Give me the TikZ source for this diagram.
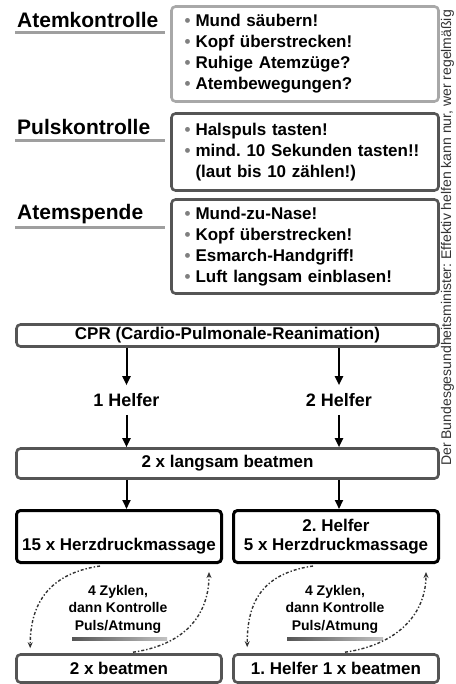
\documentclass[tikz,border=0pt]{standalone}
\usepackage{fontspec}
\setmainfont{Liberation Sans}
\usetikzlibrary{arrows.meta}
\frenchspacing
\definecolor{lightframe}{HTML}{A8A8A8}
\definecolor{darkframe}{HTML}{555555}
\definecolor{loopgray}{HTML}{333333}
\newcommand{\bul}{\makebox[16pt][c]{\textcolor{gray}{\textbullet}}}
\newcommand{\nobul}{\makebox[16pt]{}}
\tikzset{
  listbox/.style={draw, line width=2.6pt, rounded corners=4pt, minimum width=267pt,
    text width=251pt, inner xsep=8pt, align=left, font=\bfseries\fontsize{17}{21}\selectfont},
  flowbox/.style={draw=darkframe, line width=2.6pt, rounded corners=4pt, align=center,
    font=\bfseries\fontsize{17}{19}\selectfont},
  headline/.style={anchor=base west, inner sep=0pt, font=\bfseries\fontsize{21}{24}\selectfont},
  helfer/.style={inner xsep=0pt, inner ysep=8pt, font=\bfseries\fontsize{18}{20}\selectfont},
  looptext/.style={align=center, inner sep=0pt, font=\bfseries\fontsize{14}{17.5}\selectfont},
  bigarrow/.style={line width=2pt, -{Triangle[length=9pt,width=8pt]}},
  looparrow/.style={loopgray, line width=1.4pt, dash dot, -{Stealth[length=6pt,width=5pt]}},
  underl/.style={line width=3pt, gray!75}
}
\begin{document}
\begin{tikzpicture}[x=1pt,y=-1pt]
  \clip (0,0) rectangle (455,684);
  % checks
  \node[headline] (atemk) at (17,28) {Atemkontrolle};
  \node[headline] (pulsk) at (17,135) {Pulskontrolle};
  \node[headline] (atems) at (17,220) {Atemspende};
  \draw[underl] (15,33) -- (165,33);
  \draw[underl] (15,140.5) -- (165,140.5);
  \draw[underl] (15,228) -- (165,228);
  \node[listbox, draw=lightframe, minimum height=95pt] (boxA) at (305,54)
    {\bul Mund säubern!\\ \bul Kopf überstrecken!\\ \bul Ruhige Atemzüge?\\ \bul Atembewegungen?};
  \node[listbox, draw=darkframe, minimum height=77pt] (boxB) at (305,152)
    {\bul Halspuls tasten!\\ \bul mind. 10 Sekunden tasten!!\\ \nobul (laut bis 10 zählen!)};
  \node[listbox, draw=darkframe, minimum height=94pt] (boxC) at (305,246.5)
    {\bul Mund-zu-Nase!\\ \bul Kopf überstrecken!\\ \bul Esmarch-Handgriff!\\ \bul Luft langsam einblasen!};
  % flow
  \node[flowbox, minimum width=422pt, minimum height=22pt, inner ysep=0pt] (cpr) at (227.5,335.5)
    {CPR (Cardio-Pulmonale-Reanimation)};
  \node[helfer] (helfA) at (126.5,400) {1 Helfer};
  \node[helfer] (helfB) at (339,400) {2 Helfer};
  \node[flowbox, minimum width=422pt, minimum height=30pt, inner ysep=0pt] (beat) at (227.5,463.5)
    {2 x langsam beatmen};
  \node[flowbox, draw=black, line width=3pt, minimum width=205pt, minimum height=52pt, inner ysep=0pt] (herzA) at (119,536.5)
    {\strut\\15 x Herzdruckmassage};
  \node[flowbox, draw=black, line width=3pt, minimum width=205pt, minimum height=52pt, inner ysep=0pt] (herzB) at (336,536.5)
    {2. Helfer\\5 x Herzdruckmassage};
  \node[flowbox, minimum width=205pt, minimum height=28pt, inner ysep=0pt] (endA) at (119,668.5)
    {2 x beatmen};
  \node[flowbox, minimum width=205pt, minimum height=28pt, inner ysep=0pt] (endB) at (336,668.5)
    {1. Helfer 1 x beatmen};
  \draw[bigarrow] (cpr.south -| helfA) -- (helfA.north);
  \draw[bigarrow] (cpr.south -| helfB) -- (helfB.north);
  \draw[bigarrow] (helfA.south) -- (beat.north -| helfA);
  \draw[bigarrow] (helfB.south) -- (beat.north -| helfB);
  \draw[bigarrow] (beat.south -| helfA) -- (herzA.north -| helfA);
  \draw[bigarrow] (beat.south -| helfB) -- (herzB.north -| helfB);
  % cycles
  \node[looptext] (loopA) at (118,609) {4 Zyklen,\\dann Kontrolle\\Puls/Atmung};
  \node[looptext] (loopB) at (335,609) {4 Zyklen,\\dann Kontrolle\\Puls/Atmung};
  \shade[left color=darkframe, right color=lightframe!70] (72,637.5) rectangle (167,640.5);
  \shade[left color=darkframe, right color=lightframe!70] (287,637.5) rectangle (383,640.5);
  \draw[looparrow] ([xshift=-19pt,yshift=-2pt]herzA.south) .. controls +(-55,8) and +(0,-40) .. ([xshift=15pt,yshift=5pt]endA.north west);
  \draw[looparrow] ([xshift=14pt,yshift=1pt]endA.north) .. controls +(55,-8) and +(0,40) .. ([xshift=-14pt,yshift=-8pt]herzA.south east);
  \draw[looparrow] ([xshift=-23pt,yshift=-2pt]herzB.south) .. controls +(-55,8) and +(0,-40) .. ([xshift=15pt,yshift=6pt]endB.north west);
  \draw[looparrow] ([xshift=9pt,yshift=1pt]endB.north) .. controls +(55,-8) and +(0,40) .. ([xshift=-14pt,yshift=-8pt]herzB.south east);
  % side note
  \node[rotate=90, anchor=base west, inner sep=0pt, text=black!80, font=\fontsize{14}{16}\selectfont] (note) at (451,466)
    {Der Bundesgesundheitsminister: Effektiv helfen kann nur, wer regelmäßig};
\end{tikzpicture}
\end{document}
